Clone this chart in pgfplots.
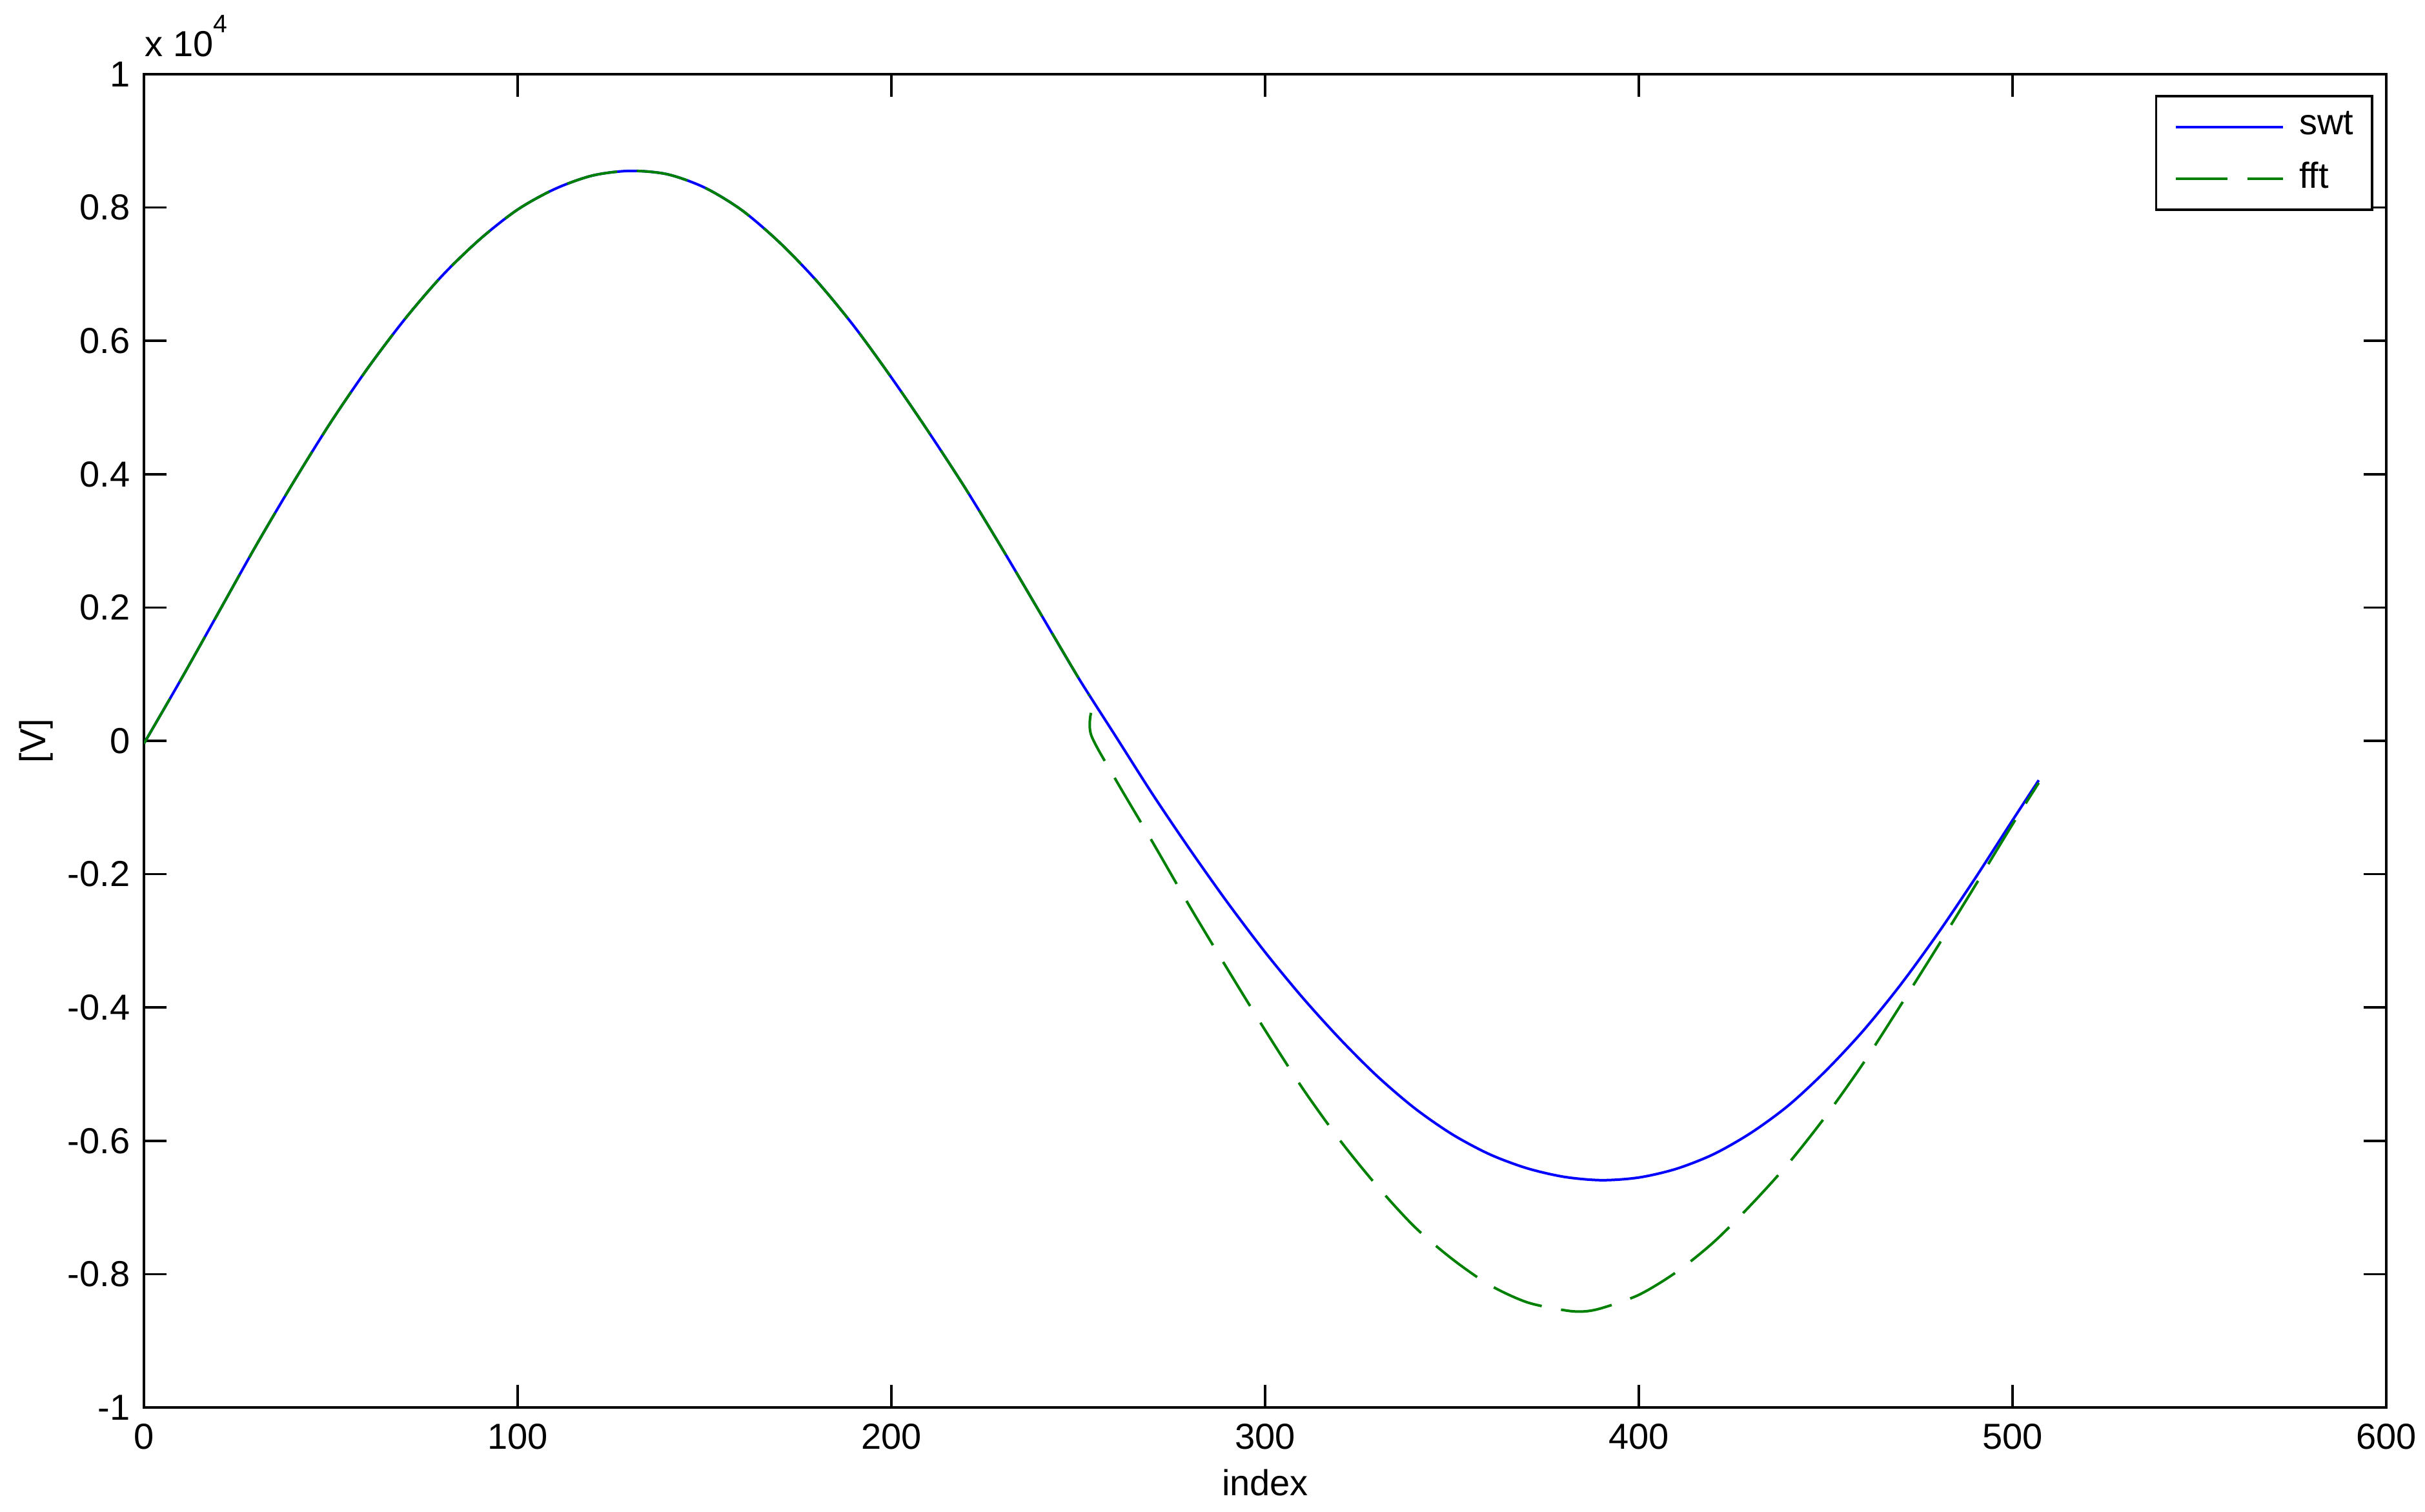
\documentclass[border=0pt]{standalone}
\usepackage{fontspec}
\setmainfont{Liberation Sans}
\usepackage{pgfplots}
\pgfplotsset{compat=1.18}
\usepackage{pgfplotstable}
\definecolor{mblue}{RGB}{0,0,255}
\definecolor{mgreen}{RGB}{0,128,0}

% values in units of 10^4 V
\pgfplotstableread{
x y
0 -0.004
10 0.093
20 0.193
30 0.293
40 0.388
50 0.478
60 0.560
70 0.634
80 0.699
90 0.753
100 0.797
110 0.828
120 0.848
130 0.855
140 0.850
150 0.830
160 0.796
170 0.748
180 0.690
190 0.622
200 0.545
210 0.463
220 0.377
230 0.285
240 0.190
250 0.095
260 0.007
270 -0.081
280 -0.164
290 -0.243
300 -0.317
310 -0.385
320 -0.447
330 -0.503
340 -0.551
350 -0.590
360 -0.620
370 -0.641
380 -0.654
390 -0.659
400 -0.655
410 -0.642
420 -0.620
430 -0.588
440 -0.547
450 -0.495
460 -0.435
470 -0.366
480 -0.289
490 -0.206
500 -0.119
507 -0.059
}\swt

% fft, first part (identical to swt)
\pgfplotstableread{
x y
0 -0.004
10 0.093
20 0.193
30 0.293
40 0.388
50 0.478
60 0.560
70 0.634
80 0.699
90 0.753
100 0.797
110 0.828
120 0.848
130 0.855
140 0.850
150 0.830
160 0.796
170 0.748
180 0.690
190 0.622
200 0.545
210 0.463
220 0.377
230 0.285
240 0.190
250 0.095
253 0.068
}\fftA

% fft, second part (after the jump)
\pgfplotstableread{
x y
253.4 0.042
253.5 0.008
260 -0.058
270 -0.153
280 -0.250
290 -0.343
300 -0.434
310 -0.521
320 -0.599
330 -0.668
340 -0.729
350 -0.777
360 -0.816
370 -0.842
380 -0.854
385 -0.856
390 -0.851
400 -0.831
410 -0.797
420 -0.752
430 -0.696
440 -0.634
450 -0.563
460 -0.484
470 -0.397
480 -0.308
490 -0.217
500 -0.125
507 -0.063
}\fftB

\begin{document}
\begin{tikzpicture}[font=\fontsize{7}{8.4}\selectfont]
\begin{axis}[
  name=ax,
  scale only axis,
  width=434.25pt, height=258.25pt,
  xmin=0, xmax=600, ymin=-1, ymax=1,
  xtick={0,100,200,300,400,500,600},
  xticklabels={0,100,200,300,400,500,600},
  ytick={-1,-0.8,-0.6,-0.4,-0.2,0,0.2,0.4,0.6,0.8,1},
  yticklabels={-1,-0.8,-0.6,-0.4,-0.2,0,0.2,0.4,0.6,0.8,1},
  tick align=inside,
  major tick length=4.4pt,
  axis line style={line width=0.45pt, black},
  every tick/.style={black, line width=0.45pt},
  xticklabel style={inner sep=0pt, yshift=-3pt},
  yticklabel style={inner sep=0pt, xshift=-2.5pt},
  xlabel={index},
  xlabel style={at={(axis description cs:0.5,-0.0658)}, anchor=base, inner sep=0pt},
  ylabel={[V]},
  ylabel style={at={(axis description cs:-0.0400,0.5)}, anchor=south, inner sep=0pt},
  legend style={at={(0.9942,0.9845)}, anchor=north east, draw=black, line width=0.45pt,
    inner xsep=3.6pt, inner ysep=1pt, row sep=0pt, column sep=2.9pt,
    nodes={inner sep=0pt, minimum height=10pt}},
  legend cell align=left,
  legend image code/.code={\draw[#1] (0pt,0pt) -- (20.75pt,0pt);},
]
\addplot[mblue, line width=0.5pt, smooth, line join=round] table {\swt};
\addplot[mgreen, line width=0.5pt, smooth, line join=round, dash pattern=on 10pt off 3.8pt] table {\fftA};
\addplot[mgreen, line width=0.5pt, smooth, line join=round, dash pattern=on 10pt off 3.8pt, forget plot] table {\fftB};
\legend{swt,fft}
\end{axis}
\node[anchor=base west, inner sep=0pt] at ([yshift=3.5pt]ax.north west)
  {x 10\raisebox{4.6pt}{\fontsize{4.9}{5}\selectfont 4}};
\pgfresetboundingbox
\path ([xshift=-27.875pt,yshift=-20.125pt]ax.south west) rectangle ([xshift=7.5pt,yshift=14.375pt]ax.north east);
\end{tikzpicture}
\end{document}
